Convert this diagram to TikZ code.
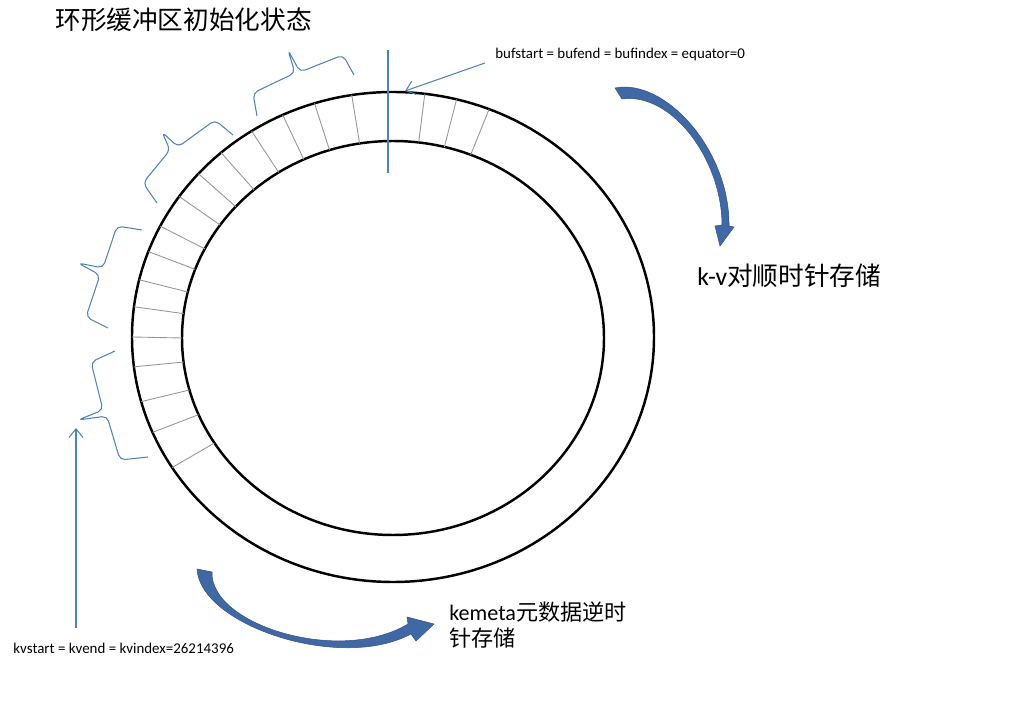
\documentclass[tikz,border=0pt]{standalone}
\usepackage{fontspec}
\setmainfont{Carlito}
\newfontfamily\cjk{Noto Sans CJK SC}
\usetikzlibrary{arrows.meta,positioning}

\definecolor{lineblue}{RGB}{79,129,189}
\definecolor{arrowblue}{RGB}{64,104,165}
\definecolor{divgray}{RGB}{150,150,150}

\begin{document}
\begin{tikzpicture}[
  x=0.02cm, y=-0.02cm,
  ring/.style={draw=black, line width=1.4pt},
  divider/.style={draw=divgray, line width=0.5pt},
  brc/.style={draw=lineblue, line width=0.6pt, rounded corners=3pt},
  ptr/.style={draw=lineblue, line width=0.6pt, -{Straight Barb[length=5pt, width=8pt]}},
  lbl/.style={inner sep=0pt, anchor=west, font=\fontsize{8.5}{10}\selectfont},
  note/.style={inner sep=0pt, anchor=west, align=left, font=\fontsize{12.6}{15.3}\selectfont},
  big/.style={inner sep=0pt, anchor=west, font=\fontsize{14.6}{17}\selectfont},
  bigarr/.style={fill=arrowblue, draw=arrowblue!80!black, line width=0.3pt}
]
\useasboundingbox (0,0) rectangle (1012,716);

\node[big] (title) at (55,20) {\cjk 环形缓冲区初始化状态};

\draw[ring] (393,337) ellipse [x radius=261, y radius=245];
\draw[ring] (393,338) ellipse [x radius=211, y radius=197];
\foreach \a in {68.4,75.9,83,99.1,107.5,115,122.8,131.2,138.2,145,153.1,159.6,166.5,172.9,180,187,195.3,202.9,212.2}
  \draw[divider] ({393+261*cos(\a)},{337-245*sin(\a)}) -- ({393+211*cos(\a)},{338-197*sin(\a)});
\draw[lineblue, line width=0.6pt] (388,50) -- (388,173);

\draw[brc] (257,116) -- (253,93) -- (295,73) -- (288,50) -- (300,72) -- (343,55) -- (354,75);
\draw[brc] (157,203) -- (143,183) -- (170,150) -- (162,132) -- (178,147) -- (215,120) -- (233,135);
\draw[brc] (142,230) -- (117,226) -- (103,268) -- (78,263) -- (100,275) -- (86,317) -- (108,328);
\draw[brc] (115,351) -- (91,362) -- (103,410) -- (78,420) -- (107,416) -- (120,460) -- (148,457);

\node[lbl] (buflbl) at (495,55) {bufstart = bufend = bufindex = equator=0};
\coordinate (bufpos) at (405,91);
\draw[ptr] (buflbl.west) ++(-10,8) -- (bufpos);

\node[lbl] (kvlbl) at (13,648) {kvstart = kvend = kvindex=26214396};
\coordinate (kvpos) at (76,428);
\draw[ptr] (kvlbl.north -| kvpos) ++(0,-14) -- (kvpos);

\path[bigarr] (615,88) .. controls (665,78) and (730,150) .. (729,226) -- (734,227) -- (720,246)
  -- (715,226) -- (722,225) .. controls (722,160) and (672,92) .. (622,99) -- cycle;
\node[big] (cwlbl) at (697,276) {k-v{\cjk 对顺时针存储}};

\path[bigarr] (197,569) .. controls (200,625) and (340,672) .. (411,634) -- (416,641) -- (434,624)
  -- (407,617) -- (408,624) .. controls (340,665) and (210,625) .. (212,572) -- cycle;
\node[note] (ccwlbl) at (449,625) {kemeta{\cjk 元数据逆时}\\{\cjk 针存储}};
\end{tikzpicture}
\end{document}
